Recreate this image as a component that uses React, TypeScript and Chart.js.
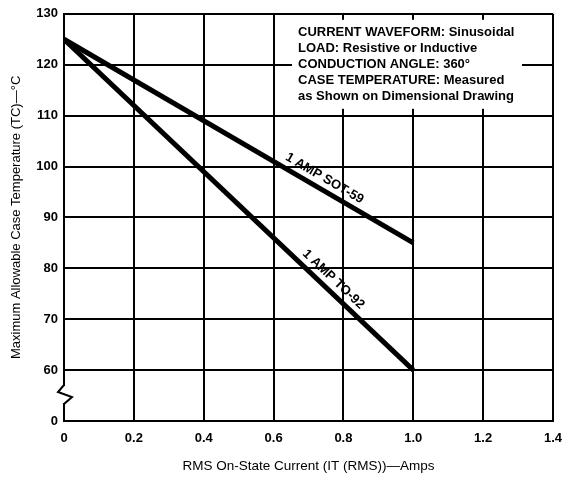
import React, { useEffect, useRef } from "react";
import { Chart, registerables } from "chart.js";

Chart.register(...registerables);

// ---- data ----
const currents = [0, 1.0];
const sot59Temps = [125, 85];
const to92Temps = [125, 60];
const xTickLabels = ["0", "0.2", "0.4", "0.6", "0.8", "1.0", "1.2", "1.4"];
const seriesLabels = ["1 AMP SOT-59", "1 AMP TO-92"];
const noteLines = [
  "CURRENT WAVEFORM: Sinusoidal",
  "LOAD: Resistive or Inductive",
  "CONDUCTION ANGLE: 360°",
  "CASE TEMPERATURE: Measured",
  "as Shown on Dimensional Drawing",
];
const xTitle = "RMS On-State Current (IT (RMS))—Amps";
const yTitle = "Maximum Allowable Case Temperature (TC)—°C";

const FONT = "'Liberation Sans', Arial, Helvetica, sans-serif";

const decorPlugin = {
  id: "decor",
  afterDraw(chart: any) {
    const ctx = chart.ctx;
    const xs = chart.scales.x;
    const ys = chart.scales.y;
    const ca = chart.chartArea;
    ctx.save();

    // axis break on the y axis
    const bx = ca.left;
    const by0 = ys.getPixelForValue(50) - 35;
    ctx.fillStyle = "#fff";
    ctx.fillRect(bx - 3, by0, 6, 17);
    ctx.strokeStyle = "#000";
    ctx.lineWidth = 2;
    ctx.beginPath();
    ctx.moveTo(bx, by0 - 1);
    ctx.lineTo(bx - 6, by0 + 6);
    ctx.lineTo(bx + 8, by0 + 11);
    ctx.lineTo(bx, by0 + 18);
    ctx.stroke();

    // note box
    const boxL = ca.left + 228;
    const boxR = ca.left + 458;
    const boxT = ca.top + 6;
    const boxB = ca.top + 95;
    ctx.fillStyle = "#fff";
    ctx.fillRect(boxL, boxT, boxR - boxL, boxB - boxT);
    ctx.fillStyle = "#000";
    ctx.font = `bold 13px ${FONT}`;
    ctx.textAlign = "left";
    ctx.textBaseline = "middle";
    noteLines.forEach((t, i) => {
      ctx.fillText(t, boxL + 6, ca.top + 19 + i * 16);
    });

    // line labels
    const labelAt = [0.73, 0.75];
    const sets = [sot59Temps, to92Temps];
    ctx.font = `bold 13px ${FONT}`;
    ctx.textAlign = "center";
    ctx.textBaseline = "middle";
    sets.forEach((temps, i) => {
      const x0 = xs.getPixelForValue(currents[0]);
      const y0 = ys.getPixelForValue(temps[0]);
      const x1 = xs.getPixelForValue(currents[1]);
      const y1 = ys.getPixelForValue(temps[1]);
      const ang = Math.atan2(y1 - y0, x1 - x0);
      const f = (labelAt[i] - currents[0]) / (currents[1] - currents[0]);
      const px = x0 + (x1 - x0) * f;
      const py = y0 + (y1 - y0) * f;
      const d = 11;
      const cx = px + Math.sin(ang) * d;
      const cy = py - Math.cos(ang) * d;
      ctx.save();
      ctx.translate(cx, cy);
      ctx.rotate(ang);
      ctx.fillText(seriesLabels[i], 0, 0);
      ctx.restore();
    });

    ctx.restore();
  },
};

export default function App() {
  const ref = useRef<HTMLCanvasElement | null>(null);

  useEffect(() => {
    document.body.style.margin = "0";
    const canvas = ref.current;
    if (!canvas) return;
    const chart = new Chart(canvas, {
      type: "line",
      data: {
        datasets: [
          {
            label: seriesLabels[0],
            data: currents.map((x, i) => ({ x, y: sot59Temps[i] })),
            borderColor: "#000",
            borderWidth: 5,
            pointRadius: 0,
            borderCapStyle: "butt",
          },
          {
            label: seriesLabels[1],
            data: currents.map((x, i) => ({ x, y: to92Temps[i] })),
            borderColor: "#000",
            borderWidth: 5,
            pointRadius: 0,
            borderCapStyle: "butt",
          },
        ],
      },
      options: {
        animation: false,
        responsive: false,
        layout: { padding: { top: 11, right: 11, left: 0, bottom: 0 } },
        plugins: {
          legend: { display: false },
          tooltip: { enabled: false },
        },
        scales: {
          x: {
            type: "linear",
            min: 0,
            max: 1.4,
            afterFit: (s: any) => {
              s.height = 60;
              s.paddingRight = 0;
            },
            ticks: {
              stepSize: 0.2,
              padding: 10,
              color: "#000",
              font: { family: FONT, size: 13, weight: "bold" },
              maxRotation: 0,
              callback: (_v: any, i: number) => xTickLabels[i],
            },
            grid: { color: "#000", lineWidth: 2, drawTicks: false },
            border: { color: "#000", width: 2 },
            title: {
              display: true,
              text: xTitle,
              color: "#000",
              font: { family: FONT, size: 13.5 },
              padding: { top: 0, bottom: 7 },
            },
          },
          y: {
            type: "linear",
            min: 50,
            max: 130,
            afterFit: (s: any) => {
              s.width = 64;
            },
            ticks: {
              stepSize: 10,
              padding: 6,
              color: "#000",
              font: { family: FONT, size: 13, weight: "bold" },
              callback: (v: any) => (v === 50 ? "0" : String(v)),
            },
            grid: { color: "#000", lineWidth: 2, drawTicks: false },
            border: { color: "#000", width: 2 },
            title: {
              display: true,
              text: yTitle,
              color: "#000",
              font: { family: FONT, size: 13 },
              padding: { top: 9, bottom: 0 },
            },
          },
        },
      },
      plugins: [decorPlugin],
    } as any);
    return () => chart.destroy();
  }, []);

  return (
    <div style={{ width: 564, height: 481, background: "#fff" }}>
      <canvas ref={ref} width={564} height={481} />
    </div>
  );
}
